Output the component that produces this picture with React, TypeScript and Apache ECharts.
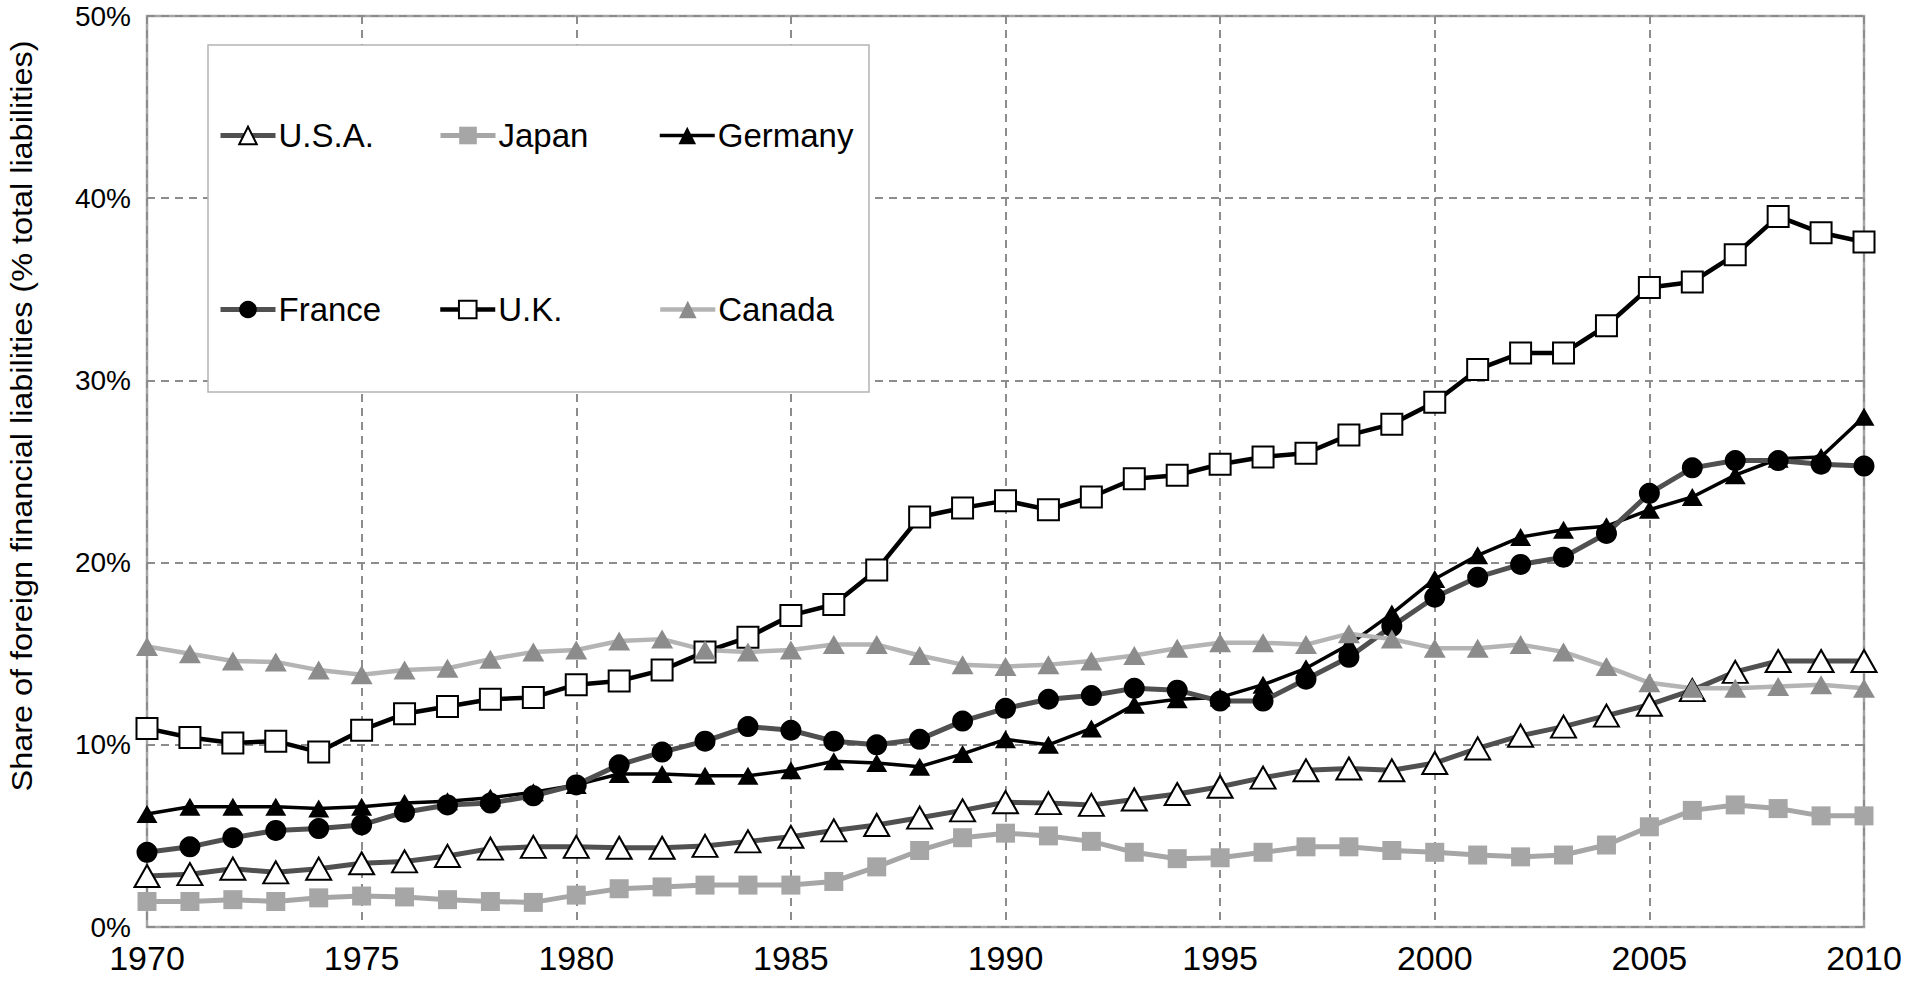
import React, { useEffect, useRef } from "react";
import * as echarts from "echarts";

const years = [1970, 1971, 1972, 1973, 1974, 1975, 1976, 1977, 1978, 1979, 1980, 1981, 1982, 1983, 1984, 1985, 1986, 1987, 1988, 1989, 1990, 1991, 1992, 1993, 1994, 1995, 1996, 1997, 1998, 1999, 2000, 2001, 2002, 2003, 2004, 2005, 2006, 2007, 2008, 2009, 2010];

const usa = [2.8, 2.9, 3.2, 3.0, 3.2, 3.5, 3.6, 3.9, 4.3, 4.4, 4.4, 4.35, 4.35, 4.45, 4.7, 4.95, 5.3, 5.6, 6.0, 6.4, 6.85, 6.8, 6.7, 7.0, 7.3, 7.7, 8.2, 8.6, 8.7, 8.6, 9.0, 9.8, 10.5, 11.0, 11.6, 12.2, 13.0, 14.0, 14.6, 14.6, 14.6];
const japan = [1.4, 1.4, 1.5, 1.4, 1.6, 1.7, 1.65, 1.5, 1.4, 1.35, 1.75, 2.1, 2.2, 2.3, 2.3, 2.3, 2.5, 3.3, 4.2, 4.9, 5.15, 5.0, 4.7, 4.1, 3.75, 3.8, 4.1, 4.4, 4.4, 4.2, 4.1, 3.95, 3.85, 3.95, 4.5, 5.5, 6.4, 6.7, 6.5, 6.1, 6.1];
const germany = [6.2, 6.6, 6.6, 6.6, 6.5, 6.6, 6.8, 6.9, 7.1, 7.4, 7.8, 8.4, 8.4, 8.3, 8.3, 8.6, 9.1, 9.0, 8.8, 9.5, 10.3, 10.0, 10.9, 12.2, 12.5, 12.6, 13.3, 14.2, 15.5, 17.2, 19.1, 20.4, 21.4, 21.8, 22.0, 22.9, 23.6, 24.8, 25.7, 25.8, 28.0];
const france = [4.1, 4.4, 4.9, 5.3, 5.4, 5.6, 6.3, 6.7, 6.8, 7.2, 7.8, 8.9, 9.6, 10.2, 11.0, 10.8, 10.2, 10.0, 10.3, 11.3, 12.0, 12.5, 12.7, 13.1, 13.0, 12.4, 12.4, 13.6, 14.8, 16.5, 18.1, 19.2, 19.9, 20.3, 21.6, 23.8, 25.2, 25.6, 25.6, 25.4, 25.3];
const uk = [10.9, 10.4, 10.1, 10.2, 9.6, 10.8, 11.7, 12.1, 12.5, 12.6, 13.3, 13.5, 14.1, 15.1, 15.9, 17.1, 17.7, 19.6, 22.5, 23.0, 23.4, 22.9, 23.6, 24.6, 24.8, 25.4, 25.8, 26.0, 27.0, 27.6, 28.8, 30.6, 31.5, 31.5, 33.0, 35.1, 35.4, 36.9, 39.0, 38.1, 37.6];
const canada = [15.4, 15.0, 14.6, 14.55, 14.1, 13.85, 14.1, 14.2, 14.7, 15.1, 15.2, 15.7, 15.8, 15.2, 15.1, 15.2, 15.5, 15.5, 14.9, 14.4, 14.3, 14.4, 14.6, 14.9, 15.3, 15.6, 15.6, 15.5, 16.1, 15.8, 15.3, 15.3, 15.5, 15.1, 14.3, 13.4, 13.1, 13.1, 13.2, 13.3, 13.1];

const seriesNames = ["U.S.A.", "Japan", "Germany", "France", "U.K.", "Canada"];
const yAxisTitle = "Share of foreign financial liabilities (% total liabilities)";

const FONT = "'Liberation Sans', Arial, Helvetica, sans-serif";

const lineWidths = [5, 5, 3.5, 5, 4.5, 4.5];

function mk(name: string, values: number[], lineColor: string, lineWidth: number, symbol: string, size: any, fill: string, border: string, borderWidth: number) {
  return {
    type: "line",
    name,
    data: years.map((y, i) => [y, values[i]]),
    symbol,
    symbolSize: size,
    showAllSymbol: true,
    lineStyle: { color: lineColor, width: lineWidth },
    itemStyle: { color: fill, borderColor: border, borderWidth },
    emphasis: { disabled: true },
  };
}

export default function App() {
  const ref = useRef<HTMLDivElement>(null);
  useEffect(() => {
    if (!ref.current) return;
    const chart = echarts.init(ref.current, undefined, { renderer: "svg" });
    const legendPos = [
      [218, 119],
      [438, 119],
      [658, 119],
      [218, 293],
      [438, 293],
      [658, 293],
    ];
    chart.setOption({
      animation: false,
      backgroundColor: "#fff",
      grid: {
        left: 147,
        right: 59,
        top: 16,
        bottom: 65,
        show: true,
        borderColor: "#a6a6a6",
        borderWidth: 2.5,
        backgroundColor: "transparent",
      },
      xAxis: {
        type: "value",
        min: 1970,
        max: 2010,
        interval: 5,
        axisLine: { show: false },
        axisTick: { show: false },
        axisLabel: {
          formatter: (v: number) => String(v),
          fontSize: 34,
          fontFamily: FONT,
          color: "#000",
          margin: 14,
        },
        splitLine: { show: true, lineStyle: { color: "#8c8c8c", width: 2, type: [8, 6] } },
      },
      yAxis: {
        type: "value",
        min: 0,
        max: 50,
        interval: 10,
        axisLine: { show: false },
        axisTick: { show: false },
        axisLabel: {
          formatter: "{value}%",
          fontSize: 28,
          fontFamily: FONT,
          color: "#000",
          margin: 16,
        },
        splitLine: { show: true, lineStyle: { color: "#8c8c8c", width: 2, type: [8, 6] } },
      },
      legend: seriesNames.map((n, i) => ({
        data: [n],
        left: legendPos[i][0],
        top: legendPos[i][1],
        padding: 0,
        itemWidth: 55,
        itemHeight: 22,
        itemGap: 0,
        selectedMode: false,
        z: 10,
        lineStyle: { width: lineWidths[i] },
        textStyle: { fontSize: 33, fontFamily: FONT, color: "#000", lineHeight: 33, padding: [0, 0, 0, -2] },
      })),
      graphic: [
        {
          type: "rect",
          z: 5,
          shape: { x: 208, y: 45, width: 661, height: 347 },
          style: { fill: "#fff", stroke: "#b4b4b4", lineWidth: 1.5 },
        },
        {
          type: "text",
          z: 5,
          x: 22,
          y: 416,
          rotation: Math.PI / 2,
          scaleX: 1.08,
          style: {
            text: yAxisTitle,
            fontSize: 30,
            fontFamily: FONT,
            fill: "#000",
            align: "center",
            verticalAlign: "middle",
            textAlign: "center",
            textVerticalAlign: "middle",
          },
        },
      ],
      series: [
        mk(seriesNames[0], usa, "#505050", lineWidths[0], "triangle", [25, 22], "#fff", "#000", 2),
        mk(seriesNames[1], japan, "#a6a6a6", lineWidths[1], "rect", 19, "#a6a6a6", "#a6a6a6", 0),
        mk(seriesNames[2], germany, "#000", lineWidths[2], "triangle", [21, 18], "#000", "#000", 0),
        mk(seriesNames[3], france, "#505050", lineWidths[3], "circle", 21, "#000", "#000", 0),
        mk(seriesNames[4], uk, "#000", lineWidths[4], "rect", 21, "#fff", "#000", 2),
        mk(seriesNames[5], canada, "#b4b4b4", lineWidths[5], "triangle", [22, 19], "#8c8c8c", "#8c8c8c", 0),
      ],
    });
    return () => chart.dispose();
  }, []);
  return <div ref={ref} style={{ position: "fixed", left: 0, top: 0, width: 1923, height: 992 }} />;
}
